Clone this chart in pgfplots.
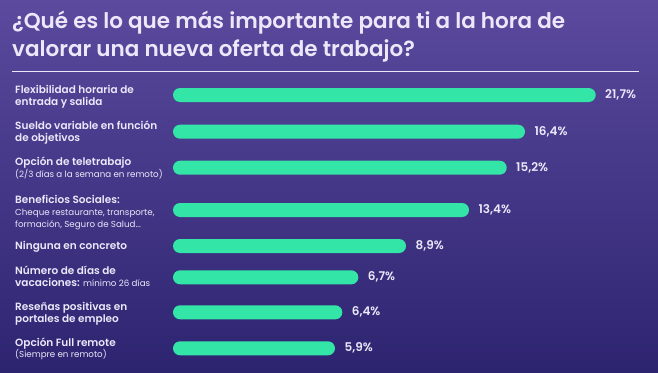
\documentclass[border=0pt]{standalone}
\usepackage{pgfplots}
\pgfplotsset{compat=1.18}
\usepackage{pgfplotstable}
\usepackage{fontspec}
\setmainfont{Poppins}
\newfontfamily\semib{Poppins SemiBold}
\newfontfamily\med{Poppins Medium}
\definecolor{bgtop}{HTML}{5B4A9E}
\definecolor{bgbot}{HTML}{2D2470}
\definecolor{mint}{HTML}{33E6A8}
\definecolor{txt}{HTML}{ECE8FA}
\tikzset{
  lab/.style={anchor=base west, text=txt, inner sep=0pt},
  big/.style={lab, font=\semib\fontsize{10.5}{12}\selectfont},
  small/.style={lab, font=\fontsize{8.7}{10}\selectfont},
}
\pgfplotstableread{
y     end    lab
95    595.7  21,7
131.7 525    16,4
167.7 506.7  15,2
210   469    13,4
246   406    8,9
277.3 358.3  6,7
312.3 342.3  6,4
348.3 335    5,9
}\bars
\begin{document}
\begin{tikzpicture}
\shade[top color=bgtop, bottom color=bgbot] (0,0) rectangle (658pt,372pt);
\begin{axis}[
  at={(173pt,0pt)}, anchor=south west,
  width=485pt, height=372pt, scale only axis,
  xmin=173, xmax=658, ymin=0, ymax=372, y dir=reverse,
  axis lines=none, clip mode=individual,
  xbar, bar width=14pt,
  point meta=explicit symbolic,
  nodes near coords={\pgfplotspointmeta\%},
  nodes near coords align={horizontal},
  every node near coord/.append style={font=\semib\fontsize{12}{14}\selectfont, text=txt, anchor=west, xshift=6pt, yshift=0pt},
]
\addplot[fill=mint, draw=none, rounded corners=7pt] table[x=end, y=y, meta=lab] {\bars};

\node[lab, font=\semib\fontsize{21.5}{26}\selectfont] at (axis cs:12,28) {¿Qué es lo que más importante para ti a la hora de};
\node[lab, font=\semib\fontsize{21.5}{26}\selectfont] at (axis cs:12,56) {valorar una nueva oferta de trabajo?};
\draw[txt, line width=1pt] (axis cs:12,71) -- (axis cs:639,71);

\node[big] at (axis cs:15,93) {Flexibilidad horaria de};
\node[big] at (axis cs:15,105) {entrada y salida};
\node[big] at (axis cs:15,129) {Sueldo variable en función};
\node[big] at (axis cs:15,141) {de objetivos};
\node[big] at (axis cs:15,165) {Opción de teletrabajo};
\node[small] at (axis cs:15,177) {(2/3 días a la semana en remoto)};
\node[big] at (axis cs:15,203) {Beneficios Sociales:};
\node[small] at (axis cs:15,215.5) {Cheque restaurante, transporte,};
\node[small] at (axis cs:15,227) {formación, Seguro de Salud...};
\node[big] at (axis cs:15,249.5) {Ninguna en concreto};
\node[big] at (axis cs:15,274) {Número de días de};
\node[big] at (axis cs:15,286) {vacaciones: {\fontspec{Poppins}\fontsize{8.7}{10}\selectfont mínimo 26 días}};
\node[big] at (axis cs:15,310) {Reseñas positivas en};
\node[big] at (axis cs:15,322) {portales de empleo};
\node[big] at (axis cs:15,346) {Opción Full remote};
\node[small] at (axis cs:15,357.5) {(Siempre en remoto)};
\end{axis}
\end{tikzpicture}
\end{document}
